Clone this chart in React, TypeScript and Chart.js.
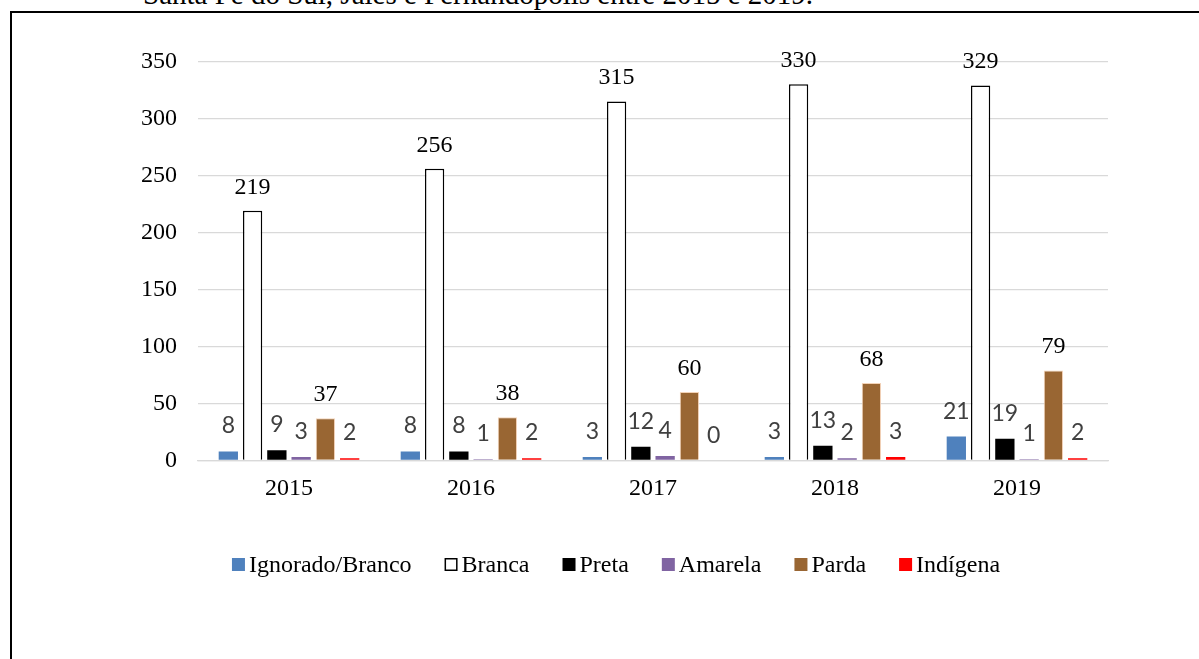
import React, { useEffect, useRef } from "react";
import { Chart, registerables } from "chart.js";

Chart.register(...registerables);

const years = ["2015", "2016", "2017", "2018", "2019"];
const seriesNames = ["Ignorado/Branco", "Branca", "Preta", "Amarela", "Parda", "Indígena"];
const ignorado = [8, 8, 3, 3, 21];
const branca = [219, 256, 315, 330, 329];
const preta = [9, 8, 12, 13, 19];
const amarela = [3, 1, 4, 2, 1];
const parda = [37, 38, 60, 68, 79];
const indigena = [2, 2, 0, 3, 2];
const yMax = 350;
const yStep = 50;
const caption = "Santa Fé do Sul, Jales e Fernandópolis entre 2015 e 2019.";

const SERIF = '"Liberation Serif", "Times New Roman", serif';
const SANS = 'Lato, "Open Sans", sans-serif';

const fills = ["#4f81bd", "#ffffff", "#000000", "#8064a2", "#996633", "#ff0000"];
const borders = ["#4f81bd", "#000000", "#000000", "#8064a2", "#f3d3b8", "#ff0000"];
const borderWidths = [0, 1.5, 0, 0, 1, 0];

const valueLabels = {
  id: "valueLabels",
  afterDatasetsDraw(chart: any) {
    const ctx = chart.ctx;
    chart.data.datasets.forEach((ds: any, i: number) => {
      const meta = chart.getDatasetMeta(i);
      const serif = i === 1 || i === 4;
      ctx.save();
      ctx.font = serif ? `24px ${SERIF}` : `23px ${SANS}`;
      ctx.fillStyle = serif ? "#000000" : "#404040";
      ctx.textAlign = "center";
      ctx.textBaseline = "alphabetic";
      meta.data.forEach((el: any, j: number) => {
        ctx.fillText(String(ds.data[j]), el.x, el.y - (serif ? 17 : 18));
      });
      ctx.restore();
    });
  },
};

const customLegend = {
  id: "customLegend",
  afterDraw(chart: any) {
    const ctx = chart.ctx;
    const box = 13;
    const gapText = 4;
    const gapItem = 33;
    const centerX = 616;
    const boxTop = 558;
    const baseline = 572;
    ctx.save();
    ctx.font = `24px ${SERIF}`;
    const widths = chart.data.datasets.map((d: any) => ctx.measureText(d.label).width);
    const total =
      widths.reduce((a: number, b: number) => a + b, 0) +
      widths.length * (box + gapText) +
      (widths.length - 1) * gapItem;
    let x = centerX - total / 2;
    chart.data.datasets.forEach((d: any, i: number) => {
      ctx.fillStyle = d.backgroundColor;
      ctx.fillRect(x, boxTop, box, box);
      if (i === 1) {
        ctx.strokeStyle = "#000000";
        ctx.lineWidth = 1.5;
        ctx.strokeRect(x + 0.75, boxTop + 0.75, box - 1.5, box - 1.5);
      }
      ctx.fillStyle = "#000000";
      ctx.textAlign = "left";
      ctx.textBaseline = "alphabetic";
      ctx.fillText(d.label, x + box + gapText, baseline);
      x += box + gapText + widths[i] + gapItem;
    });
    ctx.restore();
  },
};

export default function App() {
  const ref = useRef<HTMLCanvasElement | null>(null);

  useEffect(() => {
    if (!ref.current) return;
    const seriesData = [ignorado, branca, preta, amarela, parda, indigena];
    const chart = new Chart(ref.current, {
      type: "bar",
      data: {
        labels: years,
        datasets: seriesData.map((d, i) => ({
          label: seriesNames[i],
          data: d,
          backgroundColor: fills[i],
          borderColor: borders[i],
          borderWidth: borderWidths[i],
          categoryPercentage: 0.8,
          barPercentage: 0.795,
        })),
      },
      options: {
        responsive: false,
        animation: false,
        devicePixelRatio: 1,
        layout: { padding: { left: 100, right: 91, top: 61.5, bottom: 158.5 } },
        plugins: {
          legend: { display: false },
          tooltip: { enabled: false },
          title: { display: false },
        },
        scales: {
          x: {
            z: 1,
            grid: { display: false, drawTicks: false },
            border: { display: true, color: "#d9d9d9", width: 1.3 },
            ticks: {
              color: "#000000",
              font: { family: SERIF, size: 24 },
              padding: 14,
            },
            afterFit: (s: any) => {
              s.height = 40;
            },
          },
          y: {
            min: 0,
            max: yMax,
            grid: { color: "#d9d9d9", lineWidth: 1.3, drawTicks: false },
            border: { display: false },
            ticks: {
              stepSize: yStep,
              color: "#000000",
              font: { family: SERIF, size: 24 },
              padding: 21,
            },
            afterFit: (s: any) => {
              s.width = 98;
            },
          },
        },
      },
      plugins: [valueLabels, customLegend],
    });
    return () => chart.destroy();
  }, []);

  return (
    <div
      style={{
        position: "fixed",
        left: 0,
        top: 0,
        width: 1199,
        height: 659,
        background: "#ffffff",
        overflow: "hidden",
      }}
    >
      <div
        style={{
          position: "absolute",
          left: 143,
          top: -21,
          fontFamily: SERIF,
          fontSize: 29,
          lineHeight: "30px",
          color: "#000000",
          whiteSpace: "nowrap",
        }}
      >
        {caption}
      </div>
      <div
        style={{
          position: "absolute",
          left: 10,
          top: 11,
          width: 1400,
          height: 900,
          borderTop: "2px solid #000000",
          borderLeft: "2px solid #000000",
        }}
      />
      <canvas
        ref={ref}
        width={1199}
        height={659}
        style={{ position: "absolute", left: 0, top: 0, width: 1199, height: 659 }}
      />
    </div>
  );
}
